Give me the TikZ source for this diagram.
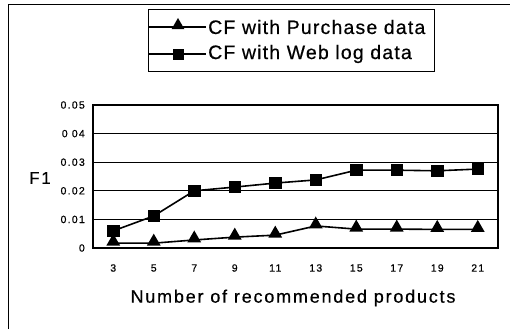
\documentclass[tikz,border=0pt]{standalone}
\usepackage{fontspec}
\setmainfont{Liberation Sans}
\newfontfamily\legfont[LetterSpace=6,FakeBold=0.5]{Liberation Sans}
\newfontfamily\tickfont[LetterSpace=12,FakeBold=0.5]{Liberation Sans}
\newfontfamily\titfont[LetterSpace=10,FakeBold=0.5]{Liberation Sans}
\usetikzlibrary{shapes.geometric}
\begin{document}
\begin{tikzpicture}[x=1pt,y=-1pt,
  sq/.style={rectangle,fill=black,minimum size=12.5pt,inner sep=0pt},
  tri/.style={regular polygon,regular polygon sides=3,fill=black,minimum size=16pt,inner sep=0pt},
  lsq/.style={rectangle,fill=black,minimum size=11pt,inner sep=0pt},
  ltri/.style={regular polygon,regular polygon sides=3,fill=black,minimum size=15pt,inner sep=0pt},
  grid/.style={line width=1.2pt},
  ser/.style={line width=1.6pt},
  tick/.style={font=\tickfont\fontsize{10.5}{12}\selectfont,inner sep=0pt},
  leg/.style={font=\legfont\fontsize{19.5}{22}\selectfont,anchor=west,inner sep=0pt}]
\useasboundingbox (0,0) rectangle (510,329);
% outer frame
\draw[line width=1pt] (8,329) -- (8,5) -- (510,5);
% legend
\draw[line width=1pt] (148,10) rectangle (434,71);
\coordinate (la1) at (148,27); \coordinate (lb1) at (206,27);
\coordinate (la2) at (148,54); \coordinate (lb2) at (206,54);
\draw[ser] (la1) -- (lb1); \node[ltri] (lt) at (178,25.5) {};
\draw[ser] (la2) -- (lb2); \node[lsq] (ls) at (178,54) {};
\node[leg] (l1) at (208,27) {CF with Purchase data};
\node[leg] (l2) at (208,54) {CF with Web log data};
% plot area
\def\yy#1{248-2860*#1}
\foreach \v/\t in {0.01/0.01,0.02/0.02,0.03/0.03,0.04/0 04}{
  \draw[grid] (93,{\yy{\v}}) -- (498,{\yy{\v}});
  \node[tick,anchor=east] at (85,{\yy{\v}}) {\t};
}
\node[tick,anchor=east] at (85,105) {0.05};
\node[tick,anchor=east] at (85,248) {0};
\draw[line width=1.4pt] (93,105) rectangle (498,248);
% x labels
\foreach \n [count=\i from 0] in {3,5,7,9,11,13,15,17,19,21}{
  \node[tick] at ({113.25+40.5*\i},268) {\n};
}
\node[font=\titfont\fontsize{17}{19}\selectfont] (f1) at (40,178) {F1};
\node[font=\titfont\fontsize{18}{20}\selectfont] (xt) at (293,298) {Number of recommended products};
% series
\draw[ser] \foreach \v [count=\i from 0] in {0.006,0.0112,0.0200,0.0213,0.0227,0.0238,0.0272,0.0272,0.0270,0.0276}{
  \ifnum\i=0 ({113.25+40.5*\i},{\yy{\v}}) \else -- ({113.25+40.5*\i},{\yy{\v}}) \fi };
\foreach \v [count=\i from 0] in {0.006,0.0112,0.0200,0.0213,0.0227,0.0238,0.0272,0.0272,0.0270,0.0276}{
  \node[sq] (w\i) at ({113.25+40.5*\i},{\yy{\v}}) {};
}
\draw[ser] \foreach \v [count=\i from 0] in {0.0017,0.0017,0.0028,0.0038,0.0045,0.0077,0.0066,0.0066,0.0065,0.0065}{
  \ifnum\i=0 ({113.25+40.5*\i},{\yy{\v}}) \else -- ({113.25+40.5*\i},{\yy{\v}}) \fi };
\foreach \v [count=\i from 0] in {0.0017,0.0017,0.0028,0.0038,0.0045,0.0077,0.0066,0.0066,0.0065,0.0065}{
  \node[tri] (p\i) at ({113.25+40.5*\i},{\yy{\v}-1.5}) {};
}
\end{tikzpicture}
\end{document}
